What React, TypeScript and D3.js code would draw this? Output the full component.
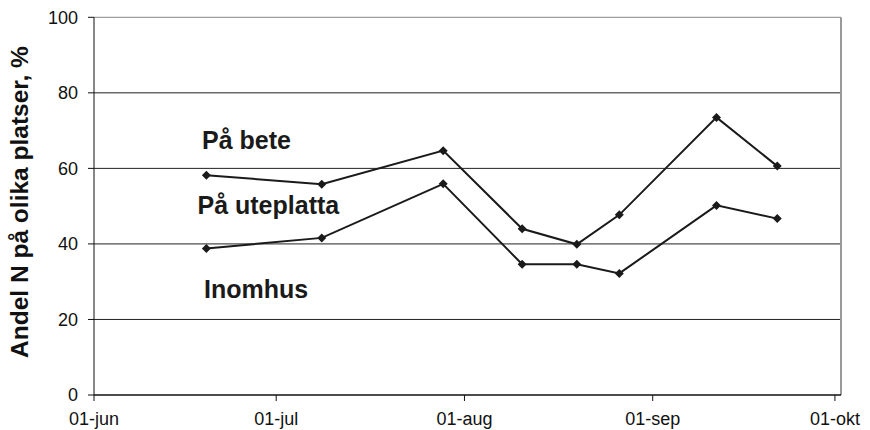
import React from "react";
import * as d3 from "d3";

const dates = ["2007-06-19", "2007-07-08", "2007-07-28", "2007-08-10", "2007-08-19", "2007-08-26", "2007-09-11", "2007-09-21"];
const paBete = [58.2, 55.8, 64.7, 44.0, 39.9, 47.7, 73.5, 60.6];
const inomhus = [38.8, 41.6, 55.9, 34.6, 34.6, 32.2, 50.2, 46.7];
const yTicks = [0, 20, 40, 60, 80, 100];
const xTickDates = ["2007-06-01", "2007-07-01", "2007-08-01", "2007-09-01", "2007-10-01"];
const xTickLabels = ["01-jun", "01-jul", "01-aug", "01-sep", "01-okt"];
const labels = ["På bete", "På uteplatta", "Inomhus"];
const labelPos = [[202, 148.5], [197.5, 214], [204, 297.5]];

const W = 870, H = 430;
const L = 94, R = 841, T = 17.3, B = 395;
const parse = d3.timeParse("%Y-%m-%d");

export default function App() {
  const x = d3.scaleTime().domain([parse("2007-06-01")!, parse("2007-10-02")!]).range([L, R]);
  const y = d3.scaleLinear().domain([0, 100]).range([B, T]);
  const px = (s: string) => x(d3.timeHour.offset(parse(s)!, 12));
  const line = d3.line<number>().x((_, i) => px(dates[i])).y((d) => y(d));
  const diamond = (cx: number, cy: number) => `M${cx},${cy - 4.5}L${cx + 4.5},${cy}L${cx},${cy + 4.5}L${cx - 4.5},${cy}Z`;
  const font = "'Liberation Sans', Arial, sans-serif";
  return (
    <svg width={W} height={H} style={{ position: "absolute", left: 0, top: 0, background: "#fff" }}>
      {yTicks.filter((t) => t > 0).map((t) => (
        <line key={t} x1={L} x2={R} y1={y(t)} y2={y(t)} stroke={t === 100 ? "#888" : "#222"} strokeWidth={1} />
      ))}
      <line x1={R} x2={R} y1={T} y2={B} stroke="#999" strokeWidth={2} />
      <line x1={L} x2={L} y1={T} y2={B} stroke="#111" strokeWidth={1} />
      <line x1={L} x2={R} y1={B} y2={B} stroke="#111" strokeWidth={1.3} />
      {yTicks.map((t) => (
        <g key={t}>
          <line x1={L - 6} x2={L} y1={y(t)} y2={y(t)} stroke="#111" />
          <text x={L - 16} y={y(t)} dy="0.36em" textAnchor="end" fontFamily={font} fontSize={18} fill="#111">{t}</text>
        </g>
      ))}
      {xTickDates.map((s, i) => (
        <g key={s}>
          <line x1={x(parse(s)!)} x2={x(parse(s)!)} y1={B} y2={B + 6} stroke="#111" />
          <text x={x(parse(s)!)} y={424.5} textAnchor="middle" fontFamily={font} fontSize={18} fill="#111">{xTickLabels[i]}</text>
        </g>
      ))}
      <text transform="translate(28,202) rotate(-90)" textAnchor="middle" fontFamily={font} fontWeight="bold" fontSize={24.5} fill="#111">Andel N på olika platser, %</text>
      {[paBete, inomhus].map((s, k) => (
        <g key={k}>
          <path d={line(s) || ""} fill="none" stroke="#1a1a1a" strokeWidth={2} />
          {s.map((v, i) => (
            <path key={i} d={diamond(px(dates[i]), y(v))} fill="#1a1a1a" />
          ))}
        </g>
      ))}
      {labels.map((t, i) => (
        <text key={t} x={labelPos[i][0]} y={labelPos[i][1]} fontFamily={font} fontWeight="bold" fontSize={25} fill="#1a1a1a">{t}</text>
      ))}
    </svg>
  );
}
